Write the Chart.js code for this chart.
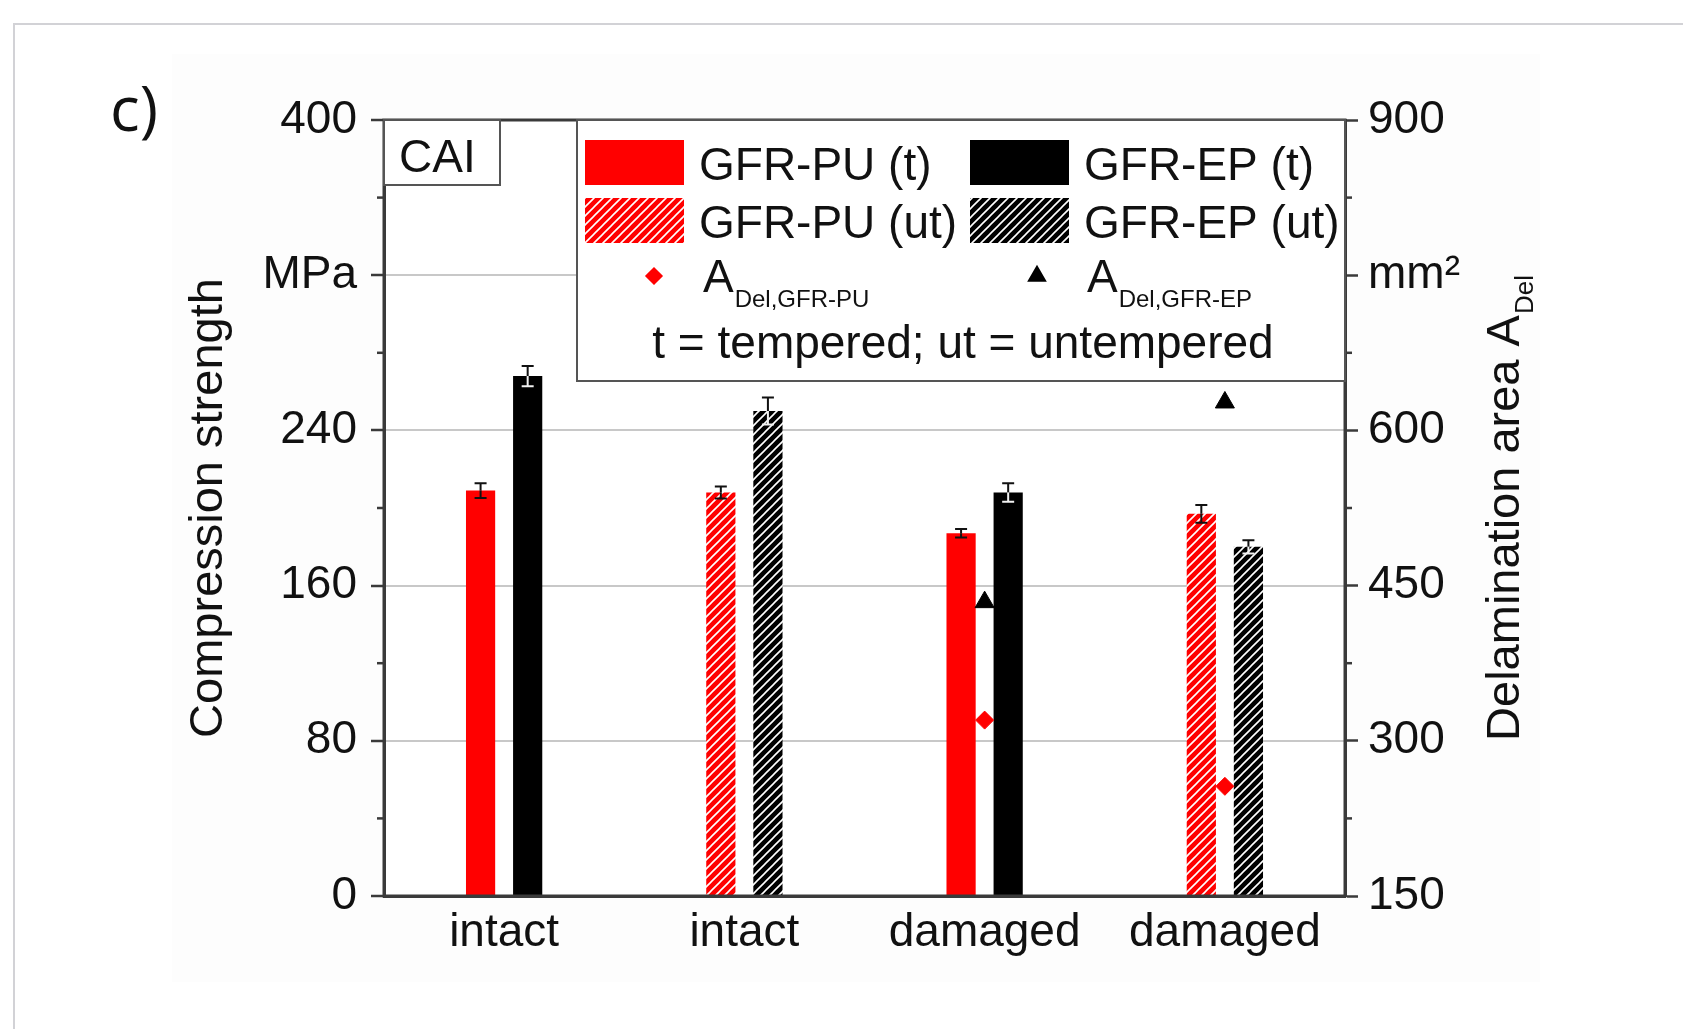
<!DOCTYPE html>
<html>
<head>
<meta charset="utf-8">
<title>CAI</title>
<script src="https://cdn.jsdelivr.net/npm/chart.js@4.4.1/dist/chart.umd.min.js"></script>
<style>
html,body{
  margin:0;
  padding:0;
  background:#ffffff;
  overflow:hidden;
}
#page{
  position:relative;
  width:1683px;
  height:1029px;
}
.card{
  position:absolute;
  left:13px;
  top:23px;
  width:1720px;
  height:1100px;
  border:2px solid #d2d2d6;
  box-sizing:border-box;
}
.figbg{
  position:absolute;
  left:172px;
  top:54px;
  width:1368px;
  height:928px;
  background:#fdfdfd;
}
.panel{
  position:absolute;
  left:110px;
  top:76px;
  font-family:"Open Sans",sans-serif;
  font-size:62px;
  color:#111;
  line-height:1;
}
canvas{
  position:absolute;
  left:0;
  top:0;
}
</style>
</head>
<body>
<div id="page">
  <div class="card"></div>
  <div class="figbg"></div>
  <div class="panel">c)</div>
  <canvas id="caiChart" width="1683" height="1029"></canvas>
</div>

<script>
/* =========================================
DATA
========================================= */

const categories = [
  "intact",
  "intact",
  "damaged",
  "damaged"
];

// true = tempered (solid), false = untempered (hatched)
const tempered = [true, false, true, false];

const seriesNames = ["GFR-PU", "GFR-EP"];

/* compression strength, MPa */
const puStrength = [209, 208, 187, 197];
const puError = [3.8, 3.1, 2.2, 4.6];

const epStrength = [268, 250, 208, 180];
const epError = [5.2, 6.9, 4.8, 3.4];

/* delamination area, mm² */
const puArea = [null, null, 320, 256];
const epArea = [null, null, 434, 627];

/* tick labels */
const leftTickValues = [0, 80, 160, 240, 320, 400];
const leftTickLabels = ["0", "80", "160", "240", "MPa", "400"];

const rightTickValues = [150, 300, 450, 600, 750, 900];
const rightTickLabels = ["150", "300", "450", "600", "mm²", "900"];

/* =========================================
STYLE
========================================= */

const RED = "#ff0000";
const BLACK = "#000000";
const INK = "#111111";
const AXIS = "#3a3a3a";
const FONT = "'Liberation Sans', Arial, sans-serif";

Chart.defaults.font.family = FONT;
Chart.defaults.color = INK;

function makeHatch(base){

  const size = 9;

  const c =
  document.createElement("canvas");

  c.width = size;
  c.height = size;

  const g = c.getContext("2d");

  g.fillStyle = base;
  g.fillRect(0, 0, size, size);

  g.strokeStyle = "#ffffff";
  g.lineWidth = 1.6;

  g.beginPath();
  g.moveTo(0, size);
  g.lineTo(size, 0);
  g.moveTo(-size/2, size/2);
  g.lineTo(size/2, -size/2);
  g.moveTo(size/2, size*1.5);
  g.lineTo(size*1.5, size/2);
  g.stroke();

  return g.createPattern(c, "repeat");
}

const redHatch = makeHatch(RED);
const blackHatch = makeHatch(BLACK);

function barFill(solid, hatch){
  return (ctx) =>
    tempered[ctx.dataIndex] ? solid : hatch;
}

/* =========================================
PLUGIN : error bars, frame, legend, titles
========================================= */

function drawMinorTicks(ctx, scale, values, side){

  ctx.strokeStyle = AXIS;
  ctx.lineWidth = 2.5;

  for(let i = 0; i < values.length - 1; i++){

    const mid =
    (values[i] + values[i+1]) / 2;

    const py =
    scale.getPixelForValue(mid);

    ctx.beginPath();

    if(side === "left"){
      ctx.moveTo(scale.right - 7, py);
      ctx.lineTo(scale.right, py);
    }else{
      ctx.moveTo(scale.left, py);
      ctx.lineTo(scale.left + 7, py);
    }

    ctx.stroke();
  }
}

function drawSubText(ctx, x, y, main, sub, mainSize, subSize, drop){

  ctx.font = mainSize + "px " + FONT;
  ctx.fillText(main, x, y);

  const w = ctx.measureText(main).width;

  ctx.font = subSize + "px " + FONT;
  ctx.fillText(sub, x + w + 1, y + drop);
}

const decorPlugin = {

  id:"decor",

  beforeDraw(chart){

    const a = chart.chartArea;

    chart.ctx.save();
    chart.ctx.fillStyle = "#ffffff";
    chart.ctx.fillRect(
      a.left, a.top, a.right - a.left, a.bottom - a.top
    );
    chart.ctx.restore();
  },

  afterDatasetsDraw(chart){

    const ctx = chart.ctx;
    const yScale = chart.scales.y;

    const groups = [
      [0, puStrength, puError],
      [1, epStrength, epError]
    ];

    ctx.save();
    ctx.lineWidth = 2;

    groups.forEach(([di, vals, errs]) => {

      const meta =
      chart.getDatasetMeta(di);

      meta.data.forEach((bar, i) => {

        const x = bar.x;

        const yHi =
        yScale.getPixelForValue(vals[i] + errs[i]);

        const yMid =
        yScale.getPixelForValue(vals[i]);

        const yLo =
        yScale.getPixelForValue(vals[i] - errs[i]);

        const cap = 6;

        ctx.strokeStyle = "#111";
        ctx.beginPath();
        ctx.moveTo(x - cap, yHi);
        ctx.lineTo(x + cap, yHi);
        ctx.moveTo(x, yHi);
        ctx.lineTo(x, yMid);
        ctx.stroke();

        ctx.strokeStyle =
        di === 1 ? "#f2f2f2" : "#111";

        ctx.beginPath();
        ctx.moveTo(x, yMid);
        ctx.lineTo(x, yLo);
        ctx.moveTo(x - cap, yLo);
        ctx.lineTo(x + cap, yLo);
        ctx.stroke();
      });
    });

    ctx.restore();
  },

  afterDraw(chart){

    const ctx = chart.ctx;
    const area = chart.chartArea;

    ctx.save();

    /* minor ticks */
    drawMinorTicks(
      ctx, chart.scales.y, leftTickValues, "left"
    );

    drawMinorTicks(
      ctx, chart.scales.y2, rightTickValues, "right"
    );

    /* frame */
    ctx.strokeStyle = AXIS;
    ctx.lineWidth = 3;
    ctx.strokeRect(
      area.left,
      area.top,
      area.right - area.left,
      area.bottom - area.top
    );

    /* CAI box */
    ctx.fillStyle = "#ffffff";
    ctx.fillRect(area.left + 1, area.top + 1, 115, 64);
    ctx.lineWidth = 2;
    ctx.strokeStyle = "#555";
    ctx.strokeRect(area.left, area.top, 116, 65);

    ctx.fillStyle = INK;
    ctx.font = "46px " + FONT;
    ctx.textBaseline = "alphabetic";
    ctx.textAlign = "left";
    ctx.fillText("CAI", area.left + 15, area.top + 52);

    /* legend box */
    const lx = 577;
    const ly = area.top;
    const lw = area.right - lx;
    const lh = 261;

    ctx.fillStyle = "#ffffff";
    ctx.fillRect(lx, ly, lw, lh);
    ctx.strokeStyle = "#555";
    ctx.lineWidth = 2;
    ctx.strokeRect(lx, ly, lw, lh);

    const barEntries = [
      [RED, seriesNames[0] + " (t)", 585, 180],
      [BLACK, seriesNames[1] + " (t)", 970, 180],
      [redHatch, seriesNames[0] + " (ut)", 585, 238],
      [blackHatch, seriesNames[1] + " (ut)", 970, 238]
    ];

    barEntries.forEach(([fill, label, x, base]) => {

      ctx.fillStyle = fill;
      ctx.fillRect(x, base - 40, 99, 45);

      ctx.fillStyle = INK;
      ctx.font = "46px " + FONT;
      ctx.fillText(label, x + 114, base);
    });

    /* marker entries */
    const markerEntries = [
      [chart.data.datasets[2], seriesNames[0], 654, 703],
      [chart.data.datasets[3], seriesNames[1], 1037, 1087]
    ];

    markerEntries.forEach(([ds, name, mx, tx]) => {

      ctx.fillStyle = ds.backgroundColor;
      ctx.strokeStyle = ds.borderColor;

      Chart.helpers.drawPoint(
        ctx,
        {
          pointStyle: ds.pointStyle,
          radius: ds.pointRadius * 0.85,
          borderWidth: 1
        },
        mx,
        276
      );

      ctx.fillStyle = INK;
      drawSubText(
        ctx, tx, 292, "A", "Del," + name, 46, 24, 15
      );
    });

    ctx.font = "46px " + FONT;
    ctx.textAlign = "center";
    ctx.fillText(
      "t = tempered; ut = untempered",
      963,
      358
    );

    /* right axis title */
    ctx.save();
    ctx.translate(1519, (area.top + area.bottom) / 2);
    ctx.rotate(-Math.PI / 2);
    ctx.textAlign = "left";

    ctx.font = "47px " + FONT;
    const mainW =
    ctx.measureText("Delamination area A").width;

    ctx.font = "26px " + FONT;
    const subW =
    ctx.measureText("Del").width;

    const start = -(mainW + subW + 1) / 2;

    drawSubText(
      ctx, start, 0, "Delamination area A", "Del", 47, 26, 14
    );

    ctx.restore();

    ctx.restore();
  }
};

/* =========================================
CHART
========================================= */

const ctx =
document.getElementById("caiChart");

const caiChart = new Chart(ctx, {

  type:"bar",

  data:{

    labels: categories,

    datasets:[

      {
        label: seriesNames[0],
        data: puStrength,
        yAxisID: "y",
        backgroundColor: barFill(RED, redHatch),
        borderWidth: 0,
        categoryPercentage: 0.392,
        barPercentage: 0.62,
        order: 2
      },

      {
        label: seriesNames[1],
        data: epStrength,
        yAxisID: "y",
        backgroundColor: barFill(BLACK, blackHatch),
        borderWidth: 0,
        categoryPercentage: 0.392,
        barPercentage: 0.62,
        order: 2
      },

      {
        type: "line",
        label: "A Del," + seriesNames[0],
        data: puArea,
        yAxisID: "y2",
        showLine: false,
        pointStyle: "rectRot",
        pointRadius: 9,
        backgroundColor: RED,
        borderColor: RED,
        borderWidth: 1,
        order: 1
      },

      {
        type: "line",
        label: "A Del," + seriesNames[1],
        data: epArea,
        yAxisID: "y2",
        showLine: false,
        pointStyle: "triangle",
        pointRadius: 11,
        backgroundColor: BLACK,
        borderColor: BLACK,
        borderWidth: 1,
        order: 1
      }

    ]
  },

  options:{

    responsive: false,
    animation: false,
    devicePixelRatio: 1,

    layout:{
      padding:{
        left: 181,
        right: 100,
        top: 120,
        bottom: 20
      }
    },

    plugins:{
      legend:{ display: false },
      tooltip:{ enabled: false }
    },

    scales:{

      x:{
        offset: true,
        grid:{
          display: false,
          drawTicks: false
        },
        border:{
          display: true,
          color: AXIS,
          width: 3
        },
        ticks:{
          padding: 10,
          color: INK,
          font:{ size: 46 }
        },
        afterFit(scale){
          scale.height = 1029 - 20 - 896;
        }
      },

      y:{
        position: "left",
        min: 0,
        max: 400,
        afterBuildTicks(scale){
          scale.ticks =
          leftTickValues.map(v => ({ value: v }));
        },
        grid:{
          color: (c) =>
            c.tick && c.tick.value > 0 && c.tick.value < 400
            ? "#c8c8c8"
            : "rgba(0,0,0,0)",
          lineWidth: 2,
          tickColor: AXIS,
          tickLength: 13,
          tickWidth: 2.5
        },
        border:{
          display: true,
          color: AXIS,
          width: 3
        },
        ticks:{
          autoSkip: false,
          padding: 14,
          color: INK,
          font:{ size: 46 },
          callback: (value) => {
            const i = leftTickValues.indexOf(value);
            return i >= 0 ? leftTickLabels[i] : "";
          }
        },
        title:{
          display: true,
          text: "Compression strength",
          color: INK,
          font:{ size: 47 },
          padding: 0
        },
        afterFit(scale){
          scale.width = 384 - 181;
        }
      },

      y2:{
        position: "right",
        min: 150,
        max: 900,
        afterBuildTicks(scale){
          scale.ticks =
          rightTickValues.map(v => ({ value: v }));
        },
        grid:{
          drawOnChartArea: false,
          tickColor: AXIS,
          tickLength: 13,
          tickWidth: 2.5
        },
        border:{
          display: true,
          color: AXIS,
          width: 3
        },
        ticks:{
          autoSkip: false,
          padding: 10,
          color: INK,
          font:{ size: 46 },
          callback: (value) => {
            const i = rightTickValues.indexOf(value);
            return i >= 0 ? rightTickLabels[i] : "";
          }
        },
        afterFit(scale){
          scale.width = 1683 - 100 - 1345;
        }
      }

    }
  },

  plugins:[decorPlugin]

});
</script>
</body>
</html>
